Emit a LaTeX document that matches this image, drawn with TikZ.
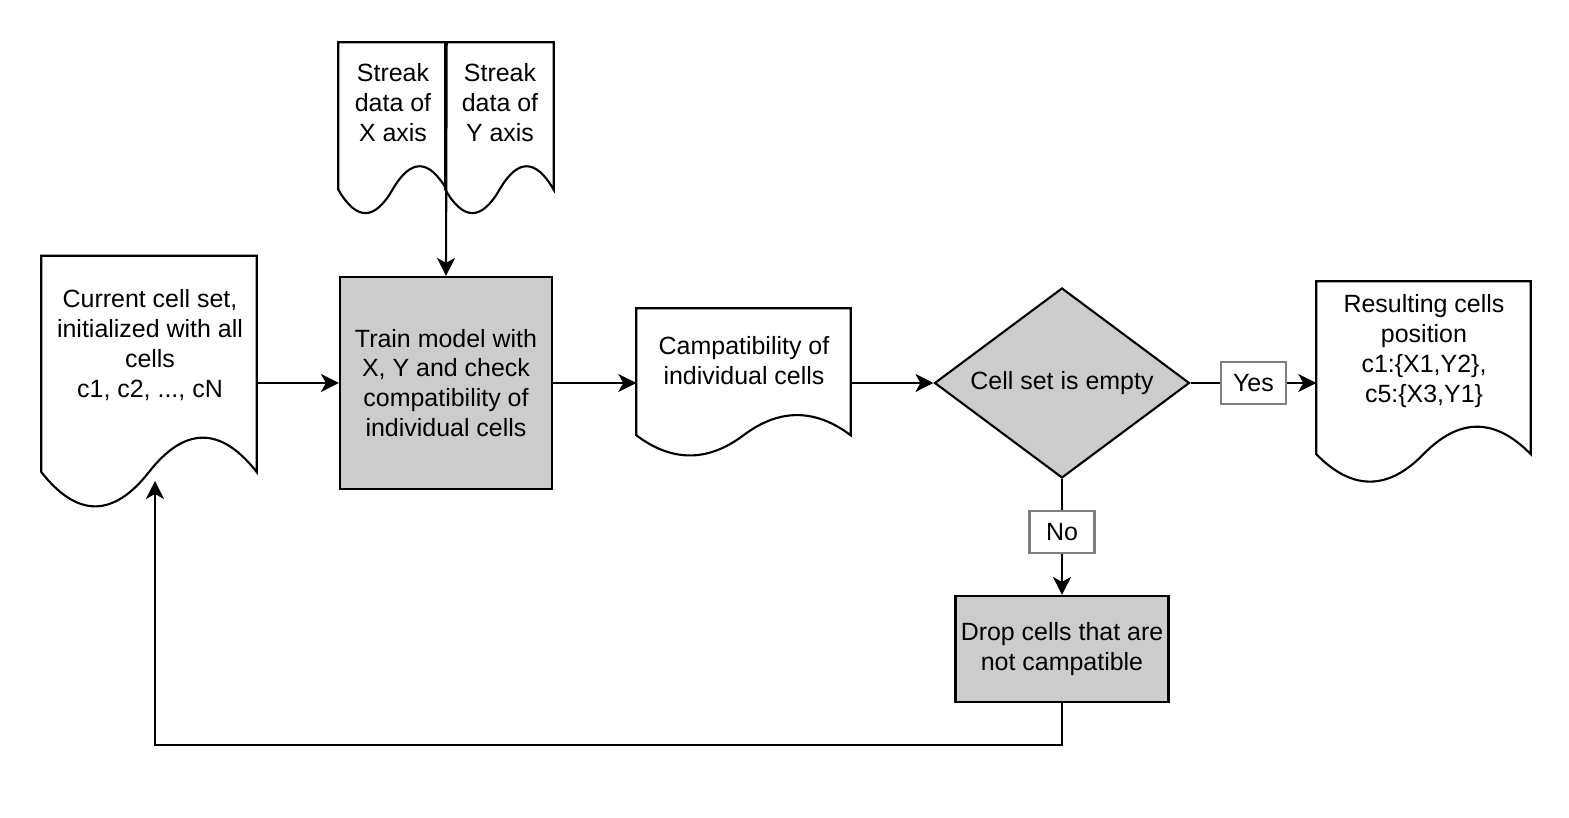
\documentclass[tikz,border=0pt]{standalone}
\usepackage{fontspec}
\setmainfont{Liberation Sans}
\usetikzlibrary{shapes.geometric, positioning, arrows.meta, calc}
\usepackage{xcolor}
\definecolor{FlowGray}{HTML}{CCCCCC}
\definecolor{LabelGray}{HTML}{808080}

\newcommand{\docoutline}[1]{%
  \draw[line width=0.6pt, fill=white] let \p1=(#1.north west), \p2=(#1.south east),
    \n1={\x2-\x1}, \n2={\y1-\y2} in
    (\x1,\y1) -- (\x2,\y1) -- (\x2,{\y2+0.15*\n2})
    .. controls ({\x2-\n1/6},{\y2+0.33*\n2}) and ({\x1+2*\n1/3},{\y2+0.33*\n2}) .. ({\x1+\n1/2},{\y2+0.15*\n2})
    .. controls ({\x1+\n1/3},{\y2-0.03*\n2}) and ({\x1+\n1/6},{\y2-0.03*\n2}) .. (\x1,{\y2+0.15*\n2}) -- cycle;}

\begin{document}
\begin{tikzpicture}[font=\fontsize{7.1}{8.5}\selectfont,
    doc/.style={draw=none, inner sep=0pt},
    txt/.style={align=center, inner sep=0pt},
    proc/.style={draw, line width=0.6pt, fill=FlowGray, inner sep=0pt, align=center},
    lbl/.style={draw=LabelGray, line width=0.6pt, fill=white, minimum width=0.65cm, minimum height=0.42cm, inner sep=0pt},
    arr/.style={line width=0.6pt, -{Stealth[length=0.18cm, width=0.18cm, inset=0.05cm]}}]
                \useasboundingbox (0,0) rectangle (15.69,8.18);

                \node[doc, minimum width=2.14cm, minimum height=2.53cm] (cur) at (1.49,4.35) {};
                \node[doc, minimum width=1.07cm, minimum height=1.72cm] (sx) at (3.925,6.89) {};
                \node[doc, minimum width=1.07cm, minimum height=1.72cm] (sy) at (4.995,6.89) {};
                \node[doc, minimum width=2.13cm, minimum height=1.48cm] (comp) at (7.435,4.35) {};
                \node[doc, minimum width=2.13cm, minimum height=2.02cm] (res) at (14.235,4.35) {};
                \docoutline{cur}
                \docoutline{sx}
                \docoutline{sy}
                \docoutline{comp}
                \docoutline{res}

                \node[txt] (curtext) at (1.50,4.73) {Current cell set,\\initialized with all\\cells\\c1, c2, ..., cN};
                \node[txt] (sxtext) at (3.93,7.155) {Streak\\data of\\X axis};
                \node[txt] (sytext) at (5.00,7.155) {Streak\\data of\\Y axis};
                \node[txt] (comptext) at (7.44,4.57) {Campatibility of\\individual cells};
                \node[txt] (restext) at (14.24,4.67) {Resulting cells\\position\\c1:\{X1,Y2\},\\c5:\{X3,Y1\}};

                \node[proc, minimum width=2.12cm, minimum height=2.12cm] (train) at (4.46,4.35) {Train model with\\X, Y and check\\compatibility of\\individual cells};
                \node[proc, shape=diamond, aspect=1.34, minimum width=2.55cm, minimum height=1.90cm] (empty) at (10.62,4.35) {Cell set is empty};
                \node[proc, minimum width=2.13cm, minimum height=1.06cm] (drop) at (10.62,1.69) {Drop cells that are\\not campatible};

                \coordinate (turn) at (1.55,0.73);
                \coordinate (back) at (1.55,3.37);

                \draw[arr] (cur) -- (train);
                \draw[arr] (sx.north east) -- (train.north);
                \draw[arr] (train) -- (comp);
                \draw[arr] (comp) -- (empty);
                \draw[arr] (empty) -- node[lbl] (yes) {Yes} (res);
                \draw[arr] (empty) -- node[lbl, pos=0.46] (no) {No} (drop);
                \draw[arr] (drop) |- (turn) -- (back);
\end{tikzpicture}
\end{document}
